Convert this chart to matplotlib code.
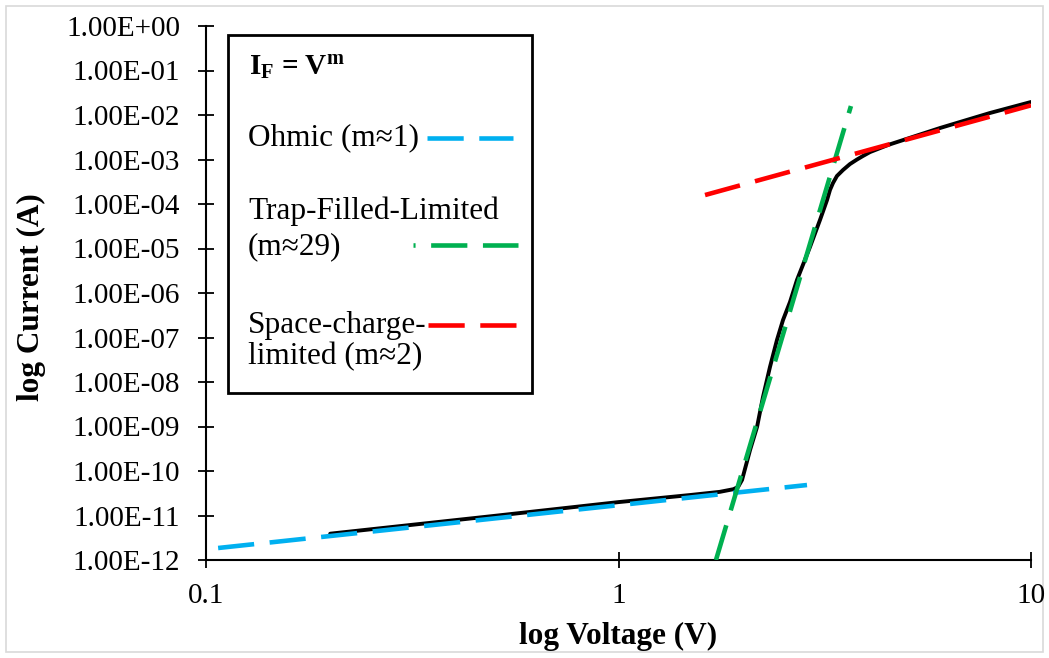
import matplotlib
matplotlib.use("Agg")
import matplotlib.pyplot as plt
from matplotlib.lines import Line2D
from matplotlib.patches import Rectangle
from matplotlib.ticker import FixedLocator, FixedFormatter, NullLocator

plt.rcParams['font.family'] = ['Liberation Serif', 'DejaVu Serif']
plt.rcParams['mathtext.fontset'] = 'custom'
plt.rcParams['mathtext.rm'] = 'Liberation Serif'
plt.rcParams['mathtext.bf'] = 'Liberation Serif:bold'
plt.rcParams['mathtext.it'] = 'Liberation Serif:italic'

# Measured I-V curve
voltage = [0.2, 0.5, 1.0, 1.5, 1.76, 1.90, 1.95, 1.993, 2.084, 2.167, 2.24,
           2.329, 2.422, 2.505, 2.605, 2.708, 2.912, 3.08, 3.203, 3.256,
           3.311, 3.385, 3.501, 3.64, 3.786, 3.914, 4.072, 4.501, 6.018,
           7.954, 10.0]
current = [3.9e-12, 9.8e-12, 2.0e-11, 2.9e-11, 3.4e-11, 3.9e-11, 4.4e-11,
           6.3e-11, 2.96e-10, 9.75e-10, 4.6e-9, 2.17e-8, 8.8e-8, 2.47e-7,
           6.3e-7, 1.96e-6, 1.08e-5, 4.4e-5, 1.23e-4, 2.07e-4, 2.96e-4,
           4.26e-4, 5.8e-4, 7.9e-4, 1.0e-3, 1.2e-3, 1.47e-3, 2.12e-3, 5.1e-3,
           1.11e-2, 1.96e-2]

# Power-law fits I = V^m for the three conduction regimes
ohmic_v = [0.107, 2.864]
ohmic_i = [1.86e-12, 4.84e-11]
tfl_v = [1.723, 3.66]
tfl_i = [1.0e-12, 1.59e-2]
sclc_v = [1.621, 10.0]
sclc_i = [1.59e-4, 1.65e-2]

fit_colors = ["#00b0f0", "#00b050", "#ff0000"]

x_ticks = [0.1, 1, 10]
x_tick_labels = ["0.1", "1", "10"]
y_ticks = [10.0 ** k for k in range(-12, 1)]
y_tick_labels = [f"{v:.2E}" for v in y_ticks]

W, H = 1049, 658
fig = plt.figure(figsize=(W / 100, H / 100), dpi=100)
ax = fig.add_axes([206 / W, 1 - 560 / H, (1031 - 206) / W, (560 - 26) / H])


def fx(px):
    return px / W


def fy(py):
    return 1 - py / H


lw_fit = 3.3
dash = (7.9, 3.4)

ax.plot(voltage, current, color="black", lw=2.8, zorder=2,
        solid_capstyle="round", solid_joinstyle="round")
for (xv, yv), col in zip([(ohmic_v, ohmic_i), (tfl_v, tfl_i), (sclc_v, sclc_i)],
                         fit_colors):
    ax.plot(xv, yv, color=col, lw=lw_fit, linestyle=(0, dash), zorder=3,
            dash_capstyle="butt")

ax.set_xscale("log")
ax.set_yscale("log")
ax.set_xlim(0.1, 10)
ax.set_ylim(1e-12, 1)

ax.xaxis.set_major_locator(FixedLocator(x_ticks))
ax.xaxis.set_major_formatter(FixedFormatter(x_tick_labels))
ax.xaxis.set_minor_locator(NullLocator())
ax.yaxis.set_major_locator(FixedLocator(y_ticks))
ax.yaxis.set_major_formatter(FixedFormatter(y_tick_labels))
ax.yaxis.set_minor_locator(NullLocator())

for side in ("top", "right"):
    ax.spines[side].set_visible(False)
for side in ("left", "bottom"):
    ax.spines[side].set_linewidth(1.5)

ax.tick_params(axis="both", which="major", direction="inout", length=11.5,
               width=1.3, labelsize=21, colors="black")
ax.tick_params(axis="y", pad=13)
ax.tick_params(axis="x", pad=11)

fig.text(fx(31), fy(297), "log Current (A)", rotation=90, ha="center",
         va="center", fontsize=22.5, fontweight="bold")
fig.text(fx(618), fy(636), "log Voltage (V)", ha="center", va="center",
         fontsize=22.5, fontweight="bold")

# Legend box with keys drawn to the right of their labels
fig.add_artist(Rectangle((fx(228), fy(393)), (532 - 228) / W, (393 - 35) / H,
                         transform=fig.transFigure, facecolor="white",
                         edgecolor="black", lw=2.0, zorder=5))
fig.text(fx(249), fy(68), r"$\mathbf{I_F}$ = $\mathbf{V^m}$", ha="left",
         va="center", fontsize=21, fontweight="bold", zorder=6)

entry_text = [[("Ohmic (m\u22481)", 138)],
              [("Trap-Filled-Limited", 211), ("(m\u224829)", 247)],
              [("Space-charge-", 326), ("limited (m\u22482)", 357)]]
entry_keys = [(427, 513, 138, 0), (413, 518, 245, 7.45), (428, 517, 325, 0)]

for lines, (x0, x1, yk, off), col in zip(entry_text, entry_keys, fit_colors):
    for txt, yt in lines:
        fig.text(fx(248), fy(yt), txt, ha="left", va="center", fontsize=22.5,
                 zorder=6)
    fig.add_artist(Line2D([fx(x0), fx(x1)], [fy(yk), fy(yk)],
                          transform=fig.transFigure, color=col, lw=lw_fit,
                          linestyle=(off, dash), dash_capstyle="butt",
                          zorder=7))

# Thin outer frame of the chart area
fig.add_artist(Rectangle((fx(6), fy(652)), (1043 - 6) / W, (652 - 6) / H,
                         transform=fig.transFigure, fill=False,
                         edgecolor="#d9d9d9", lw=1.2, zorder=0))

fig.savefig("out.png", dpi=100)
